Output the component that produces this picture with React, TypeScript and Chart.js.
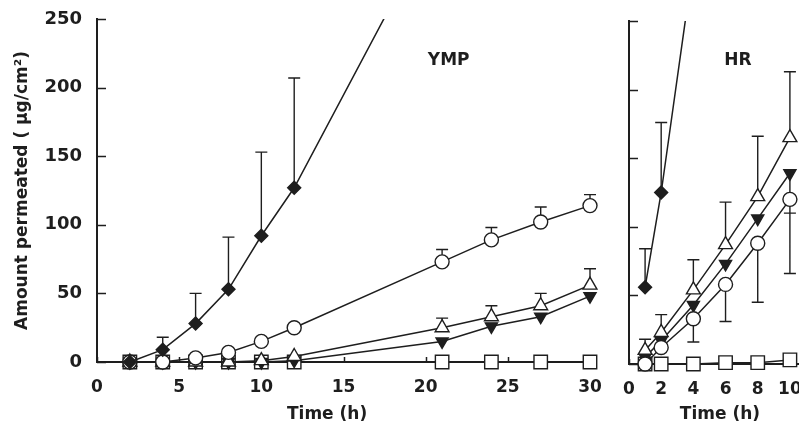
import React, { useEffect, useRef } from "react";
import { Chart, registerables } from "chart.js";

Chart.register(...registerables);

// ---------- YMP panel data ----------
const ympTimes = [2, 4, 6, 8, 10, 12, 21, 24, 27, 30];
const ympDiamondTimes = [2, 4, 6, 8, 10, 12, 21];
const ympDiamond = [0, 9, 28, 53, 92, 127, 330];
const ympDiamondUpper = [null, 18, 50, 91, 153, 207, null];
const ympCircle = [0, 0, 3, 7, 15, 25, 73, 89, 102, 114];
const ympCircleUpper = [null, null, null, null, null, null, 82, 98, 113, 122];
const ympTriUp = [0, 0, 0, 0, 1, 4, 25, 33, 41, 56];
const ympTriUpUpper = [null, null, null, null, null, null, 32, 41, 50, 68];
const ympTriDown = [0, 0, 0, 0, 0, 1, 15, 26, 33, 48];
const ympSquare = [0, 0, 0, 0, 0, 0, 0, 0, 0, 0];

// ---------- HR panel data ----------
const hrTimes = [1, 2, 4, 6, 8, 10];
const hrDiamondTimes = [1, 2, 4];
const hrDiamond = [56, 125, 292];
const hrDiamondUpper = [84, 176, null];
const hrTriUp = [10, 23, 54, 87, 122, 165];
const hrTriUpUpper = [18, 36, 76, 118, 166, 213];
const hrTriDown = [5, 17, 43, 73, 106, 139];
const hrTriDownLower = [null, null, null, null, null, 110];
const hrCircle = [0, 12, 33, 58, 88, 120];
const hrCircleLower = [null, null, 16, 31, 45, 66];
const hrSquare = [0, 0, 0, 1, 1, 3];

// ---------- ticks / labels ----------
const yTicks = [0, 50, 100, 150, 200, 250];
const ympXTicks = [0, 5, 10, 15, 20, 25, 30];
const hrXTicks = [0, 2, 4, 6, 8, 10];
const yTitle = "Amount permeated ( \u03bcg/cm\u00b2)";
const xTitle = "Time (h)";
const ympName = "YMP";
const hrName = "HR";

const INK = "#1e1e1e";
const FAMILY = "'DejaVu Sans', 'Liberation Sans', Arial, sans-serif";

type Bar = { xs: number[]; values: number[]; bounds: (number | null)[] };

function series(
  label: string,
  xs: number[],
  ys: number[],
  style: string,
  filled: boolean,
  radius: number,
  rotation = 0
) {
  return {
    label,
    data: xs.map((x, i) => ({ x, y: ys[i] })),
    showLine: true,
    borderColor: INK,
    borderWidth: 1.5,
    pointStyle: style,
    pointRadius: radius,
    pointRotation: rotation,
    pointBackgroundColor: filled ? INK : "#ffffff",
    pointBorderColor: INK,
    pointBorderWidth: 1.4,
    clip: { left: false, top: 0, right: false, bottom: false },
  };
}

function makePlugins(
  bars: Bar[],
  texts: { text: string; x: number; y: number; pixelYFromBottom?: number }[]
) {
  return [
    {
      id: "inwardTicksAndErrors",
      beforeDatasetsDraw(chart: any) {
        const { ctx, chartArea, scales } = chart;
        const xs = scales.x;
        const ys = scales.y;
        ctx.save();
        ctx.strokeStyle = INK;
        ctx.lineWidth = 1.5;
        ctx.beginPath();
        ys.ticks.forEach((t: any) => {
          const py = Math.round(ys.getPixelForValue(t.value)) + 0.5;
          ctx.moveTo(chartArea.left, py);
          ctx.lineTo(chartArea.left + 9, py);
        });
        xs.ticks.forEach((t: any) => {
          const px = Math.round(xs.getPixelForValue(t.value)) + 0.5;
          ctx.moveTo(px, chartArea.bottom);
          ctx.lineTo(px, chartArea.bottom - 5);
        });
        ctx.stroke();
        // error bars
        ctx.lineWidth = 1.4;
        ctx.beginPath();
        bars.forEach((b) => {
          b.xs.forEach((xv, i) => {
            const bound = b.bounds[i];
            if (bound === null || bound === undefined) return;
            const px = xs.getPixelForValue(xv);
            const p0 = ys.getPixelForValue(b.values[i]);
            const p1 = ys.getPixelForValue(bound);
            ctx.moveTo(px, p0);
            ctx.lineTo(px, p1);
            ctx.moveTo(px - 6, p1);
            ctx.lineTo(px + 6, p1);
          });
        });
        ctx.stroke();
        ctx.restore();
      },
      afterDraw(chart: any) {
        const { ctx, chartArea, scales } = chart;
        ctx.save();
        ctx.fillStyle = INK;
        ctx.font = `bold 17px ${FAMILY}`;
        ctx.textAlign = "center";
        ctx.textBaseline = "middle";
        texts.forEach((t) => {
          const px = scales.x.getPixelForValue(t.x);
          const py =
            t.pixelYFromBottom !== undefined
              ? chartArea.bottom + t.pixelYFromBottom
              : scales.y.getPixelForValue(t.y);
          ctx.fillText(t.text, px, py);
        });
        ctx.restore();
      },
    },
  ];
}

function makeConfig(opts: {
  datasets: any[];
  xMax: number;
  xTicks: number[];
  padding: any;
  yWidth: number;
  xHeight: number;
  showY: boolean;
  bars: Bar[];
  texts: any[];
}) {
  return {
    type: "scatter" as const,
    data: { datasets: opts.datasets },
    options: {
      responsive: false,
      animation: false as const,
      events: [],
      layout: { padding: opts.padding },
      plugins: { legend: { display: false }, tooltip: { enabled: false } },
      scales: {
        x: {
          type: "linear" as const,
          min: 0,
          max: opts.xMax,
          afterBuildTicks: (s: any) => {
            s.ticks = opts.xTicks.map((v) => ({ value: v }));
          },
          afterFit: (s: any) => {
            s.height = opts.xHeight;
            s.paddingLeft = 0;
            s.paddingRight = 0;
          },
          grid: { display: false, drawTicks: false },
          border: { display: true, color: INK, width: 2 },
          ticks: {
            color: INK,
            font: { family: FAMILY, size: 17, weight: "bold" as const },
            padding: 15,
            maxRotation: 0,
            autoSkip: false,
          },
        },
        y: {
          type: "linear" as const,
          min: 0,
          max: 250,
          afterBuildTicks: (s: any) => {
            s.ticks = yTicks.map((v) => ({ value: v }));
          },
          afterFit: (s: any) => {
            s.width = opts.yWidth;
            s.paddingTop = 0;
            s.paddingBottom = 0;
          },
          grid: { display: false, drawTicks: false },
          border: { display: true, color: INK, width: 2 },
          ticks: {
            display: opts.showY,
            color: INK,
            font: { family: FAMILY, size: 18, weight: "bold" as const },
            padding: 15,
          },
          title: {
            display: opts.showY,
            text: yTitle,
            color: INK,
            font: { family: FAMILY, size: 17, weight: "bold" as const },
            padding: { top: 4, bottom: 4 },
          },
        },
      },
    },
    plugins: makePlugins(opts.bars, opts.texts),
  };
}

export default function App() {
  const leftRef = useRef<HTMLCanvasElement>(null);
  const rightRef = useRef<HTMLCanvasElement>(null);

  useEffect(() => {
    const left = new Chart(
      leftRef.current as HTMLCanvasElement,
      makeConfig({
        datasets: [
          series("Diamond", ympDiamondTimes, ympDiamond, "rectRot", true, 6.5),
          series("Circle", ympTimes, ympCircle, "circle", false, 7),
          series("Triangle up", ympTimes, ympTriUp, "triangle", false, 8),
          series("Triangle down", ympTimes, ympTriDown, "triangle", true, 7, 180),
          series("Square", ympTimes, ympSquare, "rect", false, 9.5),
        ],
        xMax: 30,
        xTicks: ympXTicks,
        padding: { left: 8, top: 19, right: 20, bottom: 0 },
        yWidth: 89,
        xHeight: 64,
        showY: true,
        bars: [
          { xs: ympDiamondTimes, values: ympDiamond, bounds: ympDiamondUpper },
          { xs: ympTimes, values: ympCircle, bounds: ympCircleUpper },
          { xs: ympTimes, values: ympTriUp, bounds: ympTriUpUpper },
        ],
        texts: [
          { text: ympName, x: 21.4, y: 220 },
          { text: xTitle, x: 14.0, y: 0, pixelYFromBottom: 53 },
        ],
      }) as any
    );
    const right = new Chart(
      rightRef.current as HTMLCanvasElement,
      makeConfig({
        datasets: [
          series("Diamond", hrDiamondTimes, hrDiamond, "rectRot", true, 6.5),
          series("Circle", hrTimes, hrCircle, "circle", false, 7),
          series("Triangle up", hrTimes, hrTriUp, "triangle", false, 8),
          series("Triangle down", hrTimes, hrTriDown, "triangle", true, 7, 180),
          series("Square", hrTimes, hrSquare, "rect", false, 9.5),
        ],
        xMax: 11,
        xTicks: hrXTicks,
        padding: { left: 29, top: 21, right: 14, bottom: 0 },
        yWidth: 0,
        xHeight: 62,
        showY: false,
        bars: [
          { xs: hrDiamondTimes, values: hrDiamond, bounds: hrDiamondUpper },
          { xs: hrTimes, values: hrTriUp, bounds: hrTriUpUpper },
          { xs: hrTimes, values: hrTriDown, bounds: hrTriDownLower },
          { xs: hrTimes, values: hrCircle, bounds: hrCircleLower },
        ],
        texts: [
          { text: hrName, x: 6.77, y: 221 },
          { text: xTitle, x: 5.65, y: 0, pixelYFromBottom: 51 },
        ],
      }) as any
    );
    return () => {
      left.destroy();
      right.destroy();
    };
  }, []);

  return (
    <div
      style={{
        position: "fixed",
        left: 0,
        top: 0,
        width: 799,
        height: 426,
        overflow: "hidden",
        background: "#ffffff",
      }}
    >
      <canvas
        ref={leftRef}
        width={610}
        height={426}
        style={{ position: "absolute", left: 0, top: 0 }}
      />
      <canvas
        ref={rightRef}
        width={220}
        height={426}
        style={{ position: "absolute", left: 600, top: 0 }}
      />
    </div>
  );
}
